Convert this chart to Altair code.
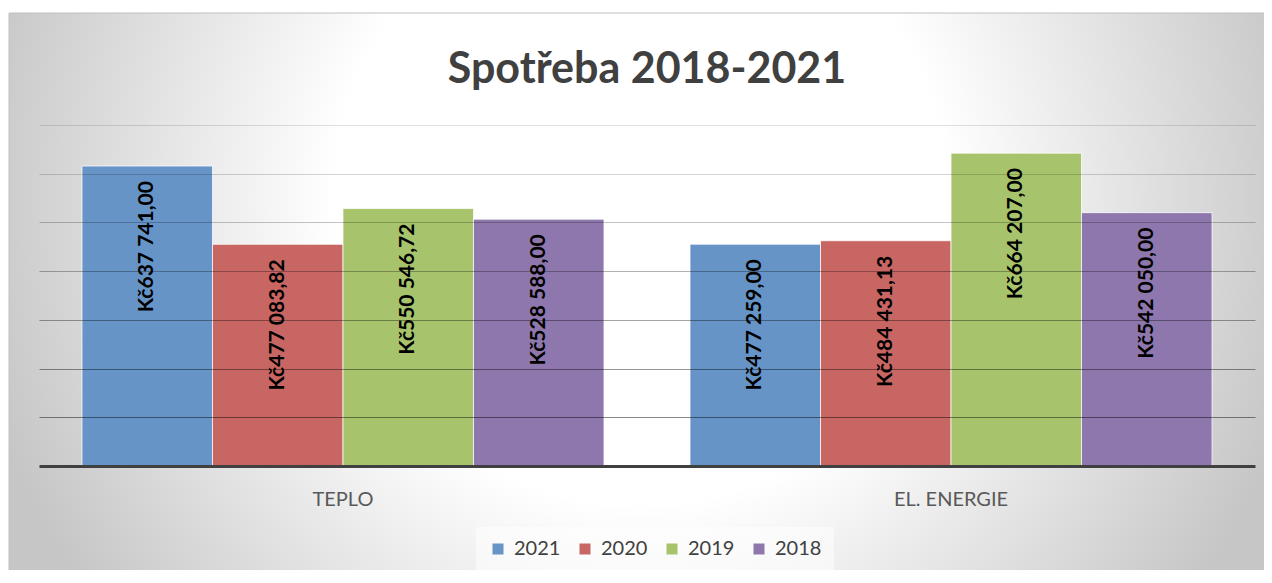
import altair as alt
import pandas as pd

# ---- data ----
categories = ["TEPLO", "EL. ENERGIE"]
years = ["2021", "2020", "2019", "2018"]
values_2021 = [637741.00, 477259.00]
values_2020 = [477083.82, 484431.13]
values_2019 = [550546.72, 664207.00]
values_2018 = [528588.00, 542050.00]
series = [values_2021, values_2020, values_2019, values_2018]

colors = ["#6794C7", "#C86663", "#A7C46C", "#8E77AC"]
chart_title = "Spotřeba 2018-2021"

axis_min = 22000
axis_step = 100000
grid_values = [axis_min + axis_step * k for k in range(1, 8)]


def kc(v):
    whole = int(v)
    cents = int(round((v - whole) * 100))
    s = f"{whole:,}".replace(",", " ")
    return f"Kč{s},{cents:02d}"


rows = []
for yr, vals in zip(years, series):
    for cat, v in zip(categories, vals):
        rows.append({"category": cat, "year": yr, "value": v, "label": kc(v)})
df = pd.DataFrame(rows)

W, H = 1216, 341

bg_gradient = {
    "gradient": "radial",
    "x1": 0.489, "y1": 0.327, "r1": 0,
    "x2": 0.489, "y2": 0.327, "r2": 0.527,
    "stops": [
        {"offset": 0, "color": "#ffffff"},
        {"offset": 0.45, "color": "#ffffff"},
        {"offset": 1, "color": "#c6c6c6"},
    ],
}

background = alt.Chart(pd.DataFrame({"k": [0]})).mark_rect(
    fill=bg_gradient, stroke="#c0c0c0", strokeWidth=1
).encode(
    x=alt.value(-30), x2=alt.value(W + 45),
    y=alt.value(-112), y2=alt.value(705),
)

title_text = alt.Chart(pd.DataFrame({"t": [chart_title]})).mark_text(
    font="Lato", fontSize=43, fontWeight="bold", color="#404040",
    align="center", baseline="alphabetic",
).encode(x=alt.value(W / 2), y=alt.value(-42), text="t:N")

grid_opacity = {
    "condition": [
        {"test": f"datum.value < {axis_min + 1.5 * axis_step}", "value": 0.46},
        {"test": f"datum.value < {axis_min + 2.5 * axis_step}", "value": 0.42},
        {"test": f"datum.value < {axis_min + 3.5 * axis_step}", "value": 0.36},
        {"test": f"datum.value < {axis_min + 4.5 * axis_step}", "value": 0.30},
        {"test": f"datum.value < {axis_min + 5.5 * axis_step}", "value": 0.23},
        {"test": f"datum.value < {axis_min + 6.5 * axis_step}", "value": 0.17},
    ],
    "value": 0.12,
}

base = alt.Chart(df).encode(
    x=alt.X(
        "category:N", sort=categories,
        scale=alt.Scale(paddingInner=0.1415, paddingOuter=0.0707),
        axis=alt.Axis(
            title=None, labelAngle=0, labelFont="Lato", labelFontSize=20,
            labelColor="#595959", labelPadding=23, ticks=False,
            domainColor="#404040", domainWidth=3, zindex=1,
        ),
    ),
    xOffset=alt.XOffset("year:N", sort=years,
                        scale=alt.Scale(paddingInner=0, paddingOuter=0)),
    y=alt.Y(
        "value:Q",
        scale=alt.Scale(domain=[axis_min, axis_min + 7 * axis_step],
                        clamp=True, nice=False, zero=False),
        axis=alt.Axis(
            title=None, labels=False, ticks=False, domain=False,
            values=grid_values, gridColor="#000000", gridWidth=1,
            gridOpacity=grid_opacity, zindex=1,
        ),
    ),
)

bars = base.mark_bar(stroke="#ffffff", strokeOpacity=0.75, strokeWidth=1).encode(
    color=alt.Color(
        "year:N", sort=years,
        scale=alt.Scale(domain=years, range=colors),
        legend=alt.Legend(
            title=None, orient="none", legendX=437, legendY=402,
            direction="horizontal", symbolType="square", symbolSize=121,
            symbolStrokeWidth=0, labelFont="Lato", labelFontSize=20,
            labelColor="#404040", labelOffset=6, columnPadding=14,
            padding=12, fillColor="rgba(255,255,255,0.5)",
        ),
    )
)

labels = base.mark_text(
    angle=270, align="right", baseline="middle", dx=-15,
    font="Lato", fontSize=21, fontWeight="bold", color="#000000",
).encode(text="label:N")

chart = alt.layer(background, title_text, bars, labels).properties(
    width=W, height=H,
    autosize=alt.AutoSizeParams(type="none"),
    padding={"left": 31, "top": 117, "right": 9, "bottom": 104},
    background="#ffffff",
).configure_view(strokeWidth=0)

chart.save("out.html", embed_options={"renderer": "svg", "actions": False})
